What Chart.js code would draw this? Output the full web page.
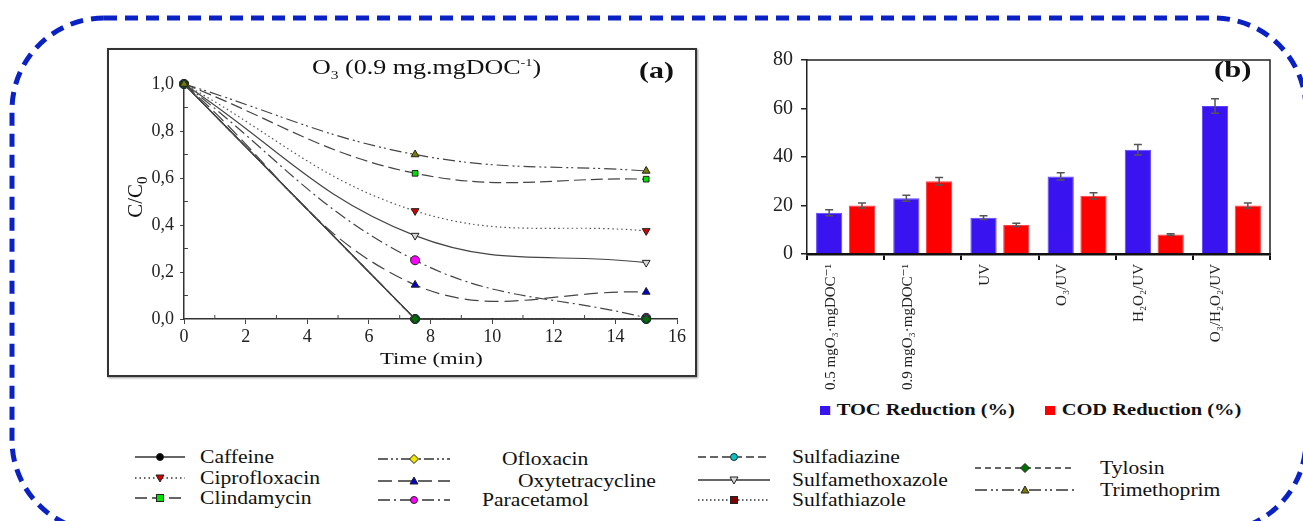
<!DOCTYPE html>
<html>
<head>
<meta charset="utf-8">
<script src="https://cdn.jsdelivr.net/npm/chart.js@4.4.1/dist/chart.umd.min.js"></script>
<style>
  body { margin: 0; background: #fff; }
  #wrap { position: relative; width: 1303px; height: 521px; overflow: hidden; font-family: "Liberation Serif", "DejaVu Serif", serif; color: #111; }
  #frame { position: absolute; left: 0; top: 0; }
  .box { position: absolute; }
  #boxA { left: 107px; top: 48px; width: 590px; height: 329px; }
  #borderA { position: absolute; left: 107px; top: 48px; width: 586px; height: 325px; border: 2px solid #333; box-shadow: 1px 1px 2px #999; }
  #boxB { left: 740px; top: 40px; width: 560px; height: 360px; }
  .t { position: absolute; white-space: nowrap; transform-origin: left center; }
  .leg { position: absolute; white-space: nowrap; font-size: 18px; transform: scaleX(1.2); transform-origin: left center; line-height: 20px; }
  .sample { position: absolute; }
</style>
</head>
<body>
<div id="wrap">
  <svg id="frame" width="1303" height="521">
    <rect x="12" y="18" width="1294" height="514" rx="92" ry="92" fill="none" stroke="#0a22c4" stroke-width="5" stroke-dasharray="13 8"/>
  </svg>

  <div class="box" id="boxA"><canvas id="chartA"></canvas></div>
  <div id="borderA"></div>
  <div class="t" style="left:312px;top:56px;font-size:20px;transform:scaleX(1.3);">O<sub style="font-size:12px">3</sub> (0.9 mg.mgDOC<sup style="font-size:11px">-1</sup>)</div>
  <div class="t" style="left:639px;top:58px;font-size:23px;font-weight:bold;transform:scaleX(1.3);">(a)</div>
  <div class="t" style="left:116px;top:183px;font-size:21px;transform:rotate(-90deg);transform-origin:center;">C/C<sub style="font-size:15px">0</sub></div>
  <div class="t" style="left:380px;top:349px;font-size:17px;transform:scaleX(1.33);">Time (min)</div>

  <div class="box" id="boxB"><canvas id="chartB"></canvas></div>
  <div class="t" style="left:1214px;top:57px;font-size:23px;font-weight:bold;transform:scaleX(1.33);">(b)</div>
  <div class="t" style="left:820px;top:401px;font-size:16px;font-weight:bold;transform:scaleX(1.28);"><span style="display:inline-block;width:8px;height:9px;background:#3a14f0;margin-right:5px;"></span>TOC Reduction (%)</div>
  <div class="t" style="left:1045px;top:401px;font-size:16px;font-weight:bold;transform:scaleX(1.28);"><span style="display:inline-block;width:8px;height:9px;background:#ff0000;margin-right:5px;"></span>COD Reduction (%)</div>

  <div id="legend"></div>
</div>

<script>
// panel (a): relative concentration C/C0 vs time
const times = [0, 7.5, 15];
const caffeine = [1.0, 0.0, 0.0];
const ciprofloxacin = [1.0, 0.46, 0.375];
const clindamycin = [1.0, 0.62, 0.595];
const ofloxacin = [1.0, 0.0, 0.0];
const oxytetracycline = [1.0, 0.145, 0.115];
const paracetamol = [1.0, 0.25, 0.005];
const sulfadiazine = [1.0, 0.0, 0.0];
const sulfamethoxazole = [1.0, 0.355, 0.24];
const sulfathiazole = [1.0, 0.0, 0.0];
const tylosin = [1.0, 0.0, 0.0];
const trimethoprim = [1.0, 0.70, 0.63];
const yTicksA = [0, 0.2, 0.4, 0.6, 0.8, 1.0];
const xTicksA = [0, 2, 4, 6, 8, 10, 12, 14, 16];

// panel (b): TOC / COD reduction per treatment
const methods = ['0.5 mgO\u2083\u00b7mgDOC\u207b\u00b9', '0.9 mgO\u2083\u00b7mgDOC\u207b\u00b9', 'UV', 'O\u2083/UV', 'H\u2082O\u2082/UV', 'O\u2083/H\u2082O\u2082/UV'];
const tocReduction = [17, 23, 15, 32, 43, 61];
const tocError = [1.2, 1.2, 0.8, 1.5, 2.2, 3.0];
const codReduction = [20, 30, 12, 24, 8, 20];
const codError = [1.0, 1.5, 0.7, 1.3, 0.4, 1.0];
const yTicksB = [0, 20, 40, 60, 80];

const SERIF = '"Liberation Serif", "DejaVu Serif", serif';

// name, values, marker colour, point style, rotation, dash, line colour, tension
const series = [
    ['Caffeine', caffeine, '#000000', 'circle', 0, [], '#111', 0],
    ['Ciprofloxacin', ciprofloxacin, '#d40000', 'triangle', 180, [1.5, 3], '#555', 0.4],
    ['Clindamycin', clindamycin, '#00e000', 'rect', 0, [12, 5], '#444', 0.4],
    ['Ofloxacin', ofloxacin, '#f2e600', 'rectRot', 0, [10, 3, 2, 3, 2, 3], '#444', 0],
    ['Oxytetracycline', oxytetracycline, '#0000d0', 'triangle', 0, [14, 6], '#444', 0.4],
    ['Paracetamol', paracetamol, '#ff00ff', 'circle', 0, [12, 4, 2, 4], '#444', 0.4],
    ['Sulfadiazine', sulfadiazine, '#00c8c8', 'circle', 0, [8, 4], '#444', 0],
    ['Sulfamethoxazole', sulfamethoxazole, '#d8d8d8', 'triangle', 180, [], '#444', 0.4],
    ['Sulfathiazole', sulfathiazole, '#800000', 'rect', 0, [1.5, 2.5], '#555', 0],
    ['Tylosin', tylosin, '#007000', 'rectRot', 0, [6, 4], '#444', 0],
    ['Trimethoprim', trimethoprim, '#7a7a00', 'triangle', 0, [12, 4, 2, 3, 2, 4], '#444', 0.4]
];

// reversed so the first compound is painted last (Chart.js paints index 0 on top)
const datasetsA = series.slice().reverse().map(s => ({
    label: s[0],
    data: s[1].map((v, i) => ({ x: times[i], y: v })),
    borderColor: s[6],
    borderWidth: 1.2,
    borderDash: s[5],
    backgroundColor: s[2],
    pointBackgroundColor: s[2],
    pointBorderColor: '#222',
    pointBorderWidth: 1,
    pointStyle: s[3],
    pointRotation: s[4],
    pointRadius: s[3] === 'rect' ? 4 : 4.5,
    tension: s[7],
    clip: false
}));

const minorTicks = {
    id: 'minorTicks',
    afterDraw(chart) {
        const { ctx, scales: { x, y } } = chart;
        ctx.save();
        ctx.strokeStyle = '#444'; ctx.lineWidth = 1;
        ctx.beginPath();
        xTicksA.slice(0, -1).forEach(v => {
            const px = x.getPixelForValue(v + 1);
            ctx.moveTo(px, y.bottom); ctx.lineTo(px, y.bottom - 4);
        });
        yTicksA.slice(0, -1).forEach(v => {
            const py = y.getPixelForValue(v + 0.1);
            ctx.moveTo(x.left, py); ctx.lineTo(x.left + 4, py);
        });
        ctx.stroke();
        ctx.restore();
    }
};

new Chart(document.getElementById('chartA'), {
    type: 'line',
    data: { datasets: datasetsA },
    options: {
        responsive: true, maintainAspectRatio: false, animation: false,
        layout: { padding: { top: 36, right: 20, left: 0, bottom: 0 } },
        plugins: { legend: { display: false }, tooltip: { enabled: false } },
        scales: {
            x: {
                type: 'linear', min: 0, max: 16,
                afterBuildTicks: s => { s.ticks = xTicksA.map(v => ({ value: v })); },
                afterFit: s => { s.height = 58; },
                ticks: { color: '#222', font: { family: SERIF, size: 18 }, padding: 2, maxRotation: 0 },
                grid: { drawOnChartArea: false, tickLength: 5, color: '#444' },
                border: { color: '#333', width: 1.5 }
            },
            y: {
                min: 0, max: 1,
                afterBuildTicks: s => { s.ticks = yTicksA.map(v => ({ value: v })); },
                afterFit: s => { s.width = 77; },
                ticks: { color: '#222', font: { family: SERIF, size: 18 }, padding: 6, callback: v => v.toFixed(1).replace('.', ',') },
                grid: { drawOnChartArea: false, tickLength: 4, color: '#444' },
                border: { color: '#333', width: 1.5 }
            }
        }
    },
    plugins: [minorTicks]
});

const errorBars = {
    id: 'errorBars',
    afterDatasetsDraw(chart) {
        const { ctx, scales: { y } } = chart;
        ctx.save();
        ctx.strokeStyle = '#555'; ctx.lineWidth = 1.5;
        chart.data.datasets.forEach((ds, i) => {
            chart.getDatasetMeta(i).data.forEach((bar, j) => {
                const top = y.getPixelForValue(ds.data[j] + ds.errors[j]);
                const bot = y.getPixelForValue(ds.data[j] - ds.errors[j]);
                ctx.beginPath();
                ctx.moveTo(bar.x, top); ctx.lineTo(bar.x, bot);
                ctx.moveTo(bar.x - 4, top); ctx.lineTo(bar.x + 4, top);
                ctx.moveTo(bar.x - 4, bot); ctx.lineTo(bar.x + 4, bot);
                ctx.stroke();
            });
        });
        ctx.restore();
    }
};

const frameB = {
    id: 'frameB',
    afterDraw(chart) {
        const { ctx, chartArea: a } = chart;
        ctx.save();
        ctx.strokeStyle = '#222'; ctx.lineWidth = 1.5;
        ctx.beginPath();
        ctx.moveTo(a.left, a.top); ctx.lineTo(a.right, a.top); ctx.lineTo(a.right, a.bottom);
        ctx.stroke();
        ctx.restore();
    }
};

new Chart(document.getElementById('chartB'), {
    type: 'bar',
    data: {
        labels: methods,
        datasets: [
            { label: 'TOC Reduction (%)', data: tocReduction, errors: tocError, backgroundColor: '#3a14f0', borderColor: '#5a44ff', borderWidth: 1 },
            { label: 'COD Reduction (%)', data: codReduction, errors: codError, backgroundColor: '#ff0000', borderColor: '#ff4040', borderWidth: 1 }
        ]
    },
    options: {
        responsive: true, maintainAspectRatio: false, animation: false,
        categoryPercentage: 0.85, barPercentage: 0.8,
        layout: { padding: { top: 15, right: 30, left: 0, bottom: 0 } },
        plugins: { legend: { display: false }, tooltip: { enabled: false } },
        scales: {
            x: {
                afterFit: s => { s.height = 146; },
                ticks: { color: '#222', font: { family: SERIF, size: 15 }, minRotation: 90, maxRotation: 90, padding: 4, autoSkip: false, labelOffset: -15 },
                grid: { drawOnChartArea: false, tickLength: 6, color: '#111', lineWidth: 2 },
                border: { color: '#111', width: 2.5 }
            },
            y: {
                min: 0, max: 80,
                afterBuildTicks: s => { s.ticks = yTicksB.map(v => ({ value: v })); },
                afterFit: s => { s.width = 67; },
                ticks: { color: '#222', font: { family: SERIF, size: 20 }, padding: 8 },
                grid: { drawOnChartArea: false, tickLength: 6, color: '#222', lineWidth: 1.5 },
                border: { color: '#222', width: 1.5 }
            }
        }
    },
    plugins: [errorBars, frameB]
});

// shared legend below the panels
const legendPos = {
    Caffeine: [135, 457, 50, 200], Ciprofloxacin: [135, 478, 50, 200], Clindamycin: [135, 498, 50, 200],
    Ofloxacin: [378, 459, 72, 502], Oxytetracycline: [378, 481, 72, 518], Paracetamol: [378, 500, 72, 482],
    Sulfadiazine: [698, 457, 72, 792], Sulfamethoxazole: [698, 480, 72, 792], Sulfathiazole: [698, 500, 72, 792],
    Tylosin: [975, 468, 100, 1100], Trimethoprim: [975, 490, 100, 1100]
};

function markerSvg(style, rot, fill, cx, cy) {
    const st = 'fill="' + fill + '" stroke="#222" stroke-width="1"';
    if (style === 'circle') return '<circle cx="' + cx + '" cy="' + cy + '" r="3.5" ' + st + '/>';
    if (style === 'rect') return '<rect x="' + (cx - 3.5) + '" y="' + (cy - 3.5) + '" width="7" height="7" ' + st + '/>';
    if (style === 'rectRot') return '<polygon points="' + cx + ',' + (cy - 4.5) + ' ' + (cx + 4.5) + ',' + cy + ' ' + cx + ',' + (cy + 4.5) + ' ' + (cx - 4.5) + ',' + cy + '" ' + st + '/>';
    const d = rot === 180 ? -1 : 1;
    return '<polygon points="' + cx + ',' + (cy - 4 * d) + ' ' + (cx + 4) + ',' + (cy + 3 * d) + ' ' + (cx - 4) + ',' + (cy + 3 * d) + '" ' + st + '/>';
}

const legend = document.getElementById('legend');
series.forEach(s => {
    const p = legendPos[s[0]];
    const w = p[2];
    const svg = '<svg class="sample" style="left:' + p[0] + 'px;top:' + (p[1] - 8) + 'px" width="' + w + '" height="16">' +
        '<line x1="0" y1="8" x2="' + w + '" y2="8" stroke="#333" stroke-width="1.5" stroke-dasharray="' + (s[5].length ? s[5].join(' ') : 'none') + '"/>' +
        markerSvg(s[3], s[4], s[2], w / 2, 8) + '</svg>';
    legend.innerHTML += svg + '<div class="leg" style="left:' + p[3] + 'px;top:' + (p[1] - 10) + 'px">' + s[0] + '</div>';
});
</script>
</body>
</html>
